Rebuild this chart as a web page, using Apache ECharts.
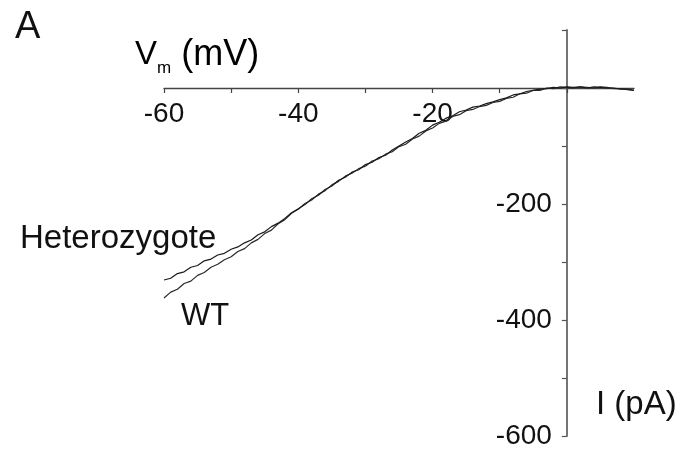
<!DOCTYPE html>
<html>
<head>
<meta charset="utf-8">
<script src="https://cdn.jsdelivr.net/npm/echarts@6/dist/echarts.min.js"></script>
<style>
  html, body { margin: 0; padding: 0; background: #fff; }
  #chart { width: 683px; height: 452px; }
</style>
</head>
<body>
<div id="chart"></div>
<script>
// Membrane potential (mV), 1 mV steps
const voltage = [];
for (let v = -60; v <= 10; v++) voltage.push(v);

// Whole-cell current (pA) for each genotype, one value per voltage step
const wtCurrent = [
  -362, -352, -347, -337, -333, -323, -318, -309, -304, -296,
  -291, -282, -277, -267, -261, -251, -245, -234, -227, -216,
  -209, -199, -193, -183, -177, -167, -161, -152, -147, -139,
  -135, -126, -122, -114, -110, -101, -97, -88, -83, -74,
  -69, -61, -57, -49, -46, -39, -37, -32, -30, -25,
  -23, -18, -16, -10, -9, -4, -4, 0, -1, 2,
  1, 0, 2, 1, 0, 2, 1, -1, -1, -3, -4
];
const hetCurrent = [
  -331, -328, -320, -317, -309, -306, -298, -295, -288, -285,
  -278, -274, -267, -262, -253, -248, -239, -233, -225, -215,
  -208, -201, -191, -185, -175, -169, -159, -154, -145, -141,
  -132, -128, -120, -116, -107, -100, -93, -87, -78, -73,
  -64, -59, -52, -48, -41, -38, -33, -31, -27, -24,
  -20, -17, -12, -10, -6, -4, -2, -1, 1, 0,
  2, 1, 2, 0, 2, 1, 0, 0, -2, -2, -4
];

const xLabels = [-60, -40, -20];
const xTicks = [-60, -50, -40, -30, -20, -10, 0];
const yLabels = [-200, -400, -600];
const yTicks = [100, 0, -100, -200, -300, -400, -500, -600];

const FONT = 'Liberation Sans, Arial, Helvetica, sans-serif';
const pairs = (ys) => voltage.map((v, i) => [v, ys[i]]);

// plot area: x from -60 to 10 mV, y from -600 to 100 pA
const GRID = { left: 164, right: 49, top: 30, bottom: 16 };
const H = 452 - GRID.top - GRID.bottom;
const W = 683 - GRID.left - GRID.right;
// the axes cross at (0 mV, 0 pA)
const xAxisShift = -H * (0 - -600) / (100 - -600);
const yAxisShift = -W * (0 - -60) / (10 - -60);

const chart = echarts.init(document.getElementById('chart'));
chart.setOption({
  backgroundColor: '#fff',
  animation: false,
  grid: GRID,
  xAxis: {
    type: 'value',
    position: 'bottom',
    offset: xAxisShift,
    min: -60, max: 10, interval: 10,
    axisLine: { onZero: false, lineStyle: { color: '#444', width: 1.3 } },
    axisTick: { customValues: xTicks, length: 5, lineStyle: { color: '#444', width: 1.2 } },
    splitLine: { show: false },
    axisLabel: {
      customValues: xLabels,
      margin: 12,
      fontSize: 28, color: '#111', fontFamily: FONT
    }
  },
  yAxis: {
    type: 'value',
    position: 'left',
    offset: yAxisShift,
    min: -600, max: 100, interval: 100,
    axisLine: { onZero: false, lineStyle: { color: '#666', width: 1.8 } },
    axisTick: { customValues: yTicks, length: 5, lineStyle: { color: '#555', width: 1.2 } },
    splitLine: { show: false },
    axisLabel: {
      customValues: yLabels,
      margin: 15,
      fontSize: 28, color: '#111', fontFamily: FONT
    }
  },
  series: [
    {
      name: 'WT', type: 'line', data: pairs(wtCurrent),
      showSymbol: false, smooth: false,
      lineStyle: { color: '#2a2a2a', width: 1.2 }
    },
    {
      name: 'Heterozygote', type: 'line', data: pairs(hetCurrent),
      showSymbol: false, smooth: false,
      lineStyle: { color: '#1a1a1a', width: 1.2 }
    }
  ],
  graphic: [
    { type: 'text', left: 15, top: 9,
      style: { text: 'A', font: '38px ' + FONT, fill: '#111' } },
    { type: 'text', left: 135, top: 37,
      style: {
        text: '{v|V}{s|m}{p| (mV)}',
        rich: {
          v: { fontSize: 33, fontFamily: FONT, color: '#111' },
          p: { fontSize: 36, fontFamily: FONT, color: '#111' },
          s: { fontSize: 17, fontFamily: FONT, color: '#111', padding: [27, 0, 0, 0] }
        }
      } },
    { type: 'text', left: 20, top: 222,
      style: { text: 'Heterozygote', font: '33px ' + FONT, fill: '#111' } },
    { type: 'text', left: 181, top: 301,
      style: { text: 'WT', font: '31px ' + FONT, fill: '#111' } },
    { type: 'text', left: 596, top: 388,
      style: { text: 'I (pA)', font: '33px ' + FONT, fill: '#111' } }
  ]
});
</script>
</body>
</html>
